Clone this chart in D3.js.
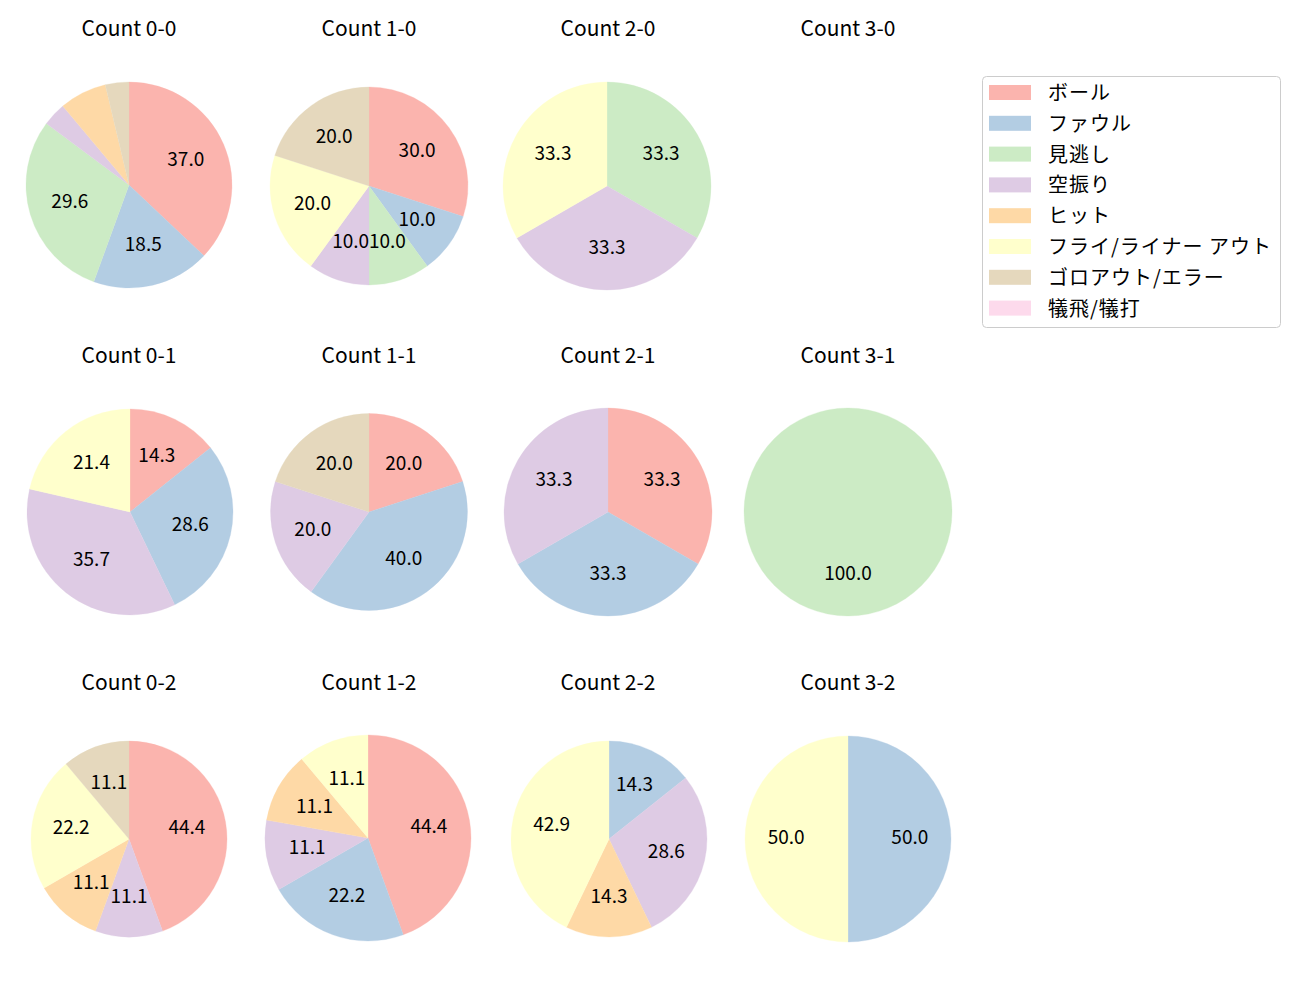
<!DOCTYPE html>
<html>
<head>
<meta charset="utf-8">
<script src="https://cdn.jsdelivr.net/npm/d3@7"></script>
<style>
  body { margin: 0; background: #fff; }
  svg { display: block; font-family: "Noto Sans CJK JP", "Noto Sans", sans-serif; }
</style>
</head>
<body>
<svg id="chart" width="1300" height="1000"></svg>
<script>
// Categories (legend order)
const categories = ["ボール", "ファウル", "見逃し", "空振り", "ヒット", "フライ/ライナー アウト", "ゴロアウト/エラー", "犠飛/犠打"];
const colors = ["#fbb4ae", "#b3cde3", "#ccebc5", "#decbe4", "#fed9a6", "#ffffcc", "#e5d8bd", "#fddaec"];

// Panel titles
const titles = ["Count 0-0", "Count 1-0", "Count 2-0", "Count 3-0",
                "Count 0-1", "Count 1-1", "Count 2-1", "Count 3-1",
                "Count 0-2", "Count 1-2", "Count 2-2", "Count 3-2"];

// Pitch counts per category for each panel (same order as categories)
const count00 = [10, 5, 8, 1, 2, 0, 1, 0];
const count10 = [3, 1, 1, 1, 0, 2, 2, 0];
const count20 = [0, 0, 1, 1, 0, 1, 0, 0];
const count30 = [0, 0, 0, 0, 0, 0, 0, 0];
const count01 = [2, 4, 0, 5, 0, 3, 0, 0];
const count11 = [1, 2, 0, 1, 0, 0, 1, 0];
const count21 = [1, 1, 0, 1, 0, 0, 0, 0];
const count31 = [0, 0, 1, 0, 0, 0, 0, 0];
const count02 = [4, 0, 0, 1, 1, 2, 1, 0];
const count12 = [4, 2, 0, 1, 1, 1, 0, 0];
const count22 = [0, 1, 0, 2, 1, 3, 0, 0];
const count32 = [0, 1, 0, 0, 0, 1, 0, 0];
const panelData = [count00, count10, count20, count30,
                   count01, count11, count21, count31,
                   count02, count12, count22, count32];

// Layout (pixel geometry, kept separate from the data)
const colX = [129, 369, 608, 848];
const rowY = [185, 512, 839];
const titleY = [28.8, 355.5, 682];
const radii = [103, 99, 104, 104,
               103, 98.5, 104, 104,
               98, 103, 98, 103];
const centerAdj = [[0,0],[0,1],[-1,1],[0,0],
                   [1,0],[0,0],[0,0],[0,0],
                   [0,0],[-1,-1],[1,0],[0,0]];

const svg = d3.select("#chart");

const pie = d3.pie().sort(null).value(d => d.v)
  .startAngle(0).endAngle(2 * Math.PI);

const titleFs = 21, labelFs = 19;

panelData.forEach((counts, i) => {
  const col = i % 4, row = Math.floor(i / 4);
  const cx = colX[col] + centerAdj[i][0];
  const cy = rowY[row] + centerAdj[i][1];
  const r = radii[i];

  svg.append("text")
    .attr("x", colX[col]).attr("y", titleY[row] + 0.366 * titleFs)
    .attr("text-anchor", "middle")
    .attr("font-size", titleFs).attr("fill", "#000")
    .text(titles[i]);

  const total = d3.sum(counts);
  if (total === 0) return;

  const items = counts.map((v, k) => ({ v, k })).filter(d => d.v > 0);
  const arcs = pie(items);
  const arc = d3.arc().innerRadius(0).outerRadius(r);
  const labelArc = d3.arc().innerRadius(r * 0.6).outerRadius(r * 0.6);

  const g = svg.append("g").attr("transform", `translate(${cx},${cy})`);
  g.selectAll("path").data(arcs).join("path")
    .attr("d", arc)
    .attr("fill", d => colors[d.data.k])
    .attr("stroke", d => colors[d.data.k])
    .attr("stroke-width", 0.3);

  g.selectAll("text").data(arcs.filter(d => d.data.v / total * 100 >= 9))
    .join("text")
    .attr("transform", d => {
      const [x, y] = labelArc.centroid(d);
      return `translate(${x},${y + 0.366 * labelFs - 1.5})`;
    })
    .attr("text-anchor", "middle")
    .attr("font-size", labelFs).attr("fill", "#000")
    .text(d => (d.data.v / total * 100).toFixed(1));
});

// Legend
const lg = svg.append("g").attr("transform", "translate(982,76)");
lg.append("rect").attr("x", 0.5).attr("y", 0.5).attr("width", 298).attr("height", 251)
  .attr("rx", 4).attr("fill", "#fff").attr("stroke", "#cccccc").attr("stroke-width", 1);
categories.forEach((c, k) => {
  const y = 16.5 + k * 30.8;
  lg.append("rect").attr("x", 7).attr("y", y - 7.5).attr("width", 42).attr("height", 15)
    .attr("fill", colors[k]);
  lg.append("text").attr("x", 66).attr("y", y - 1)
    .attr("dominant-baseline", "central").attr("font-size", 20)
    .attr("letter-spacing", 1).attr("fill", "#000")
    .text(c);
});
</script>
</body>
</html>
